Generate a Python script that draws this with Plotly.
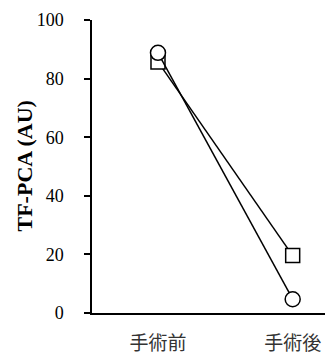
import plotly.graph_objects as go

categories = ["手術前", "手術後"]
series_square = [85.7, 19.6]
series_circle = [88.8, 4.7]
y_ticks = [0, 20, 40, 60, 80, 100]

fig = go.Figure()
fig.add_trace(go.Scatter(
    x=categories, y=series_square, mode="lines+markers",
    line=dict(color="black", width=1.5),
    marker=dict(symbol="square", size=14, color="white", line=dict(color="black", width=1.5)),
    showlegend=False, cliponaxis=False))
fig.add_trace(go.Scatter(
    x=categories, y=series_circle, mode="lines+markers",
    line=dict(color="black", width=1.5),
    marker=dict(symbol="circle", size=15, color="white", line=dict(color="black", width=1.5)),
    showlegend=False, cliponaxis=False))

fig.update_layout(
    width=325, height=354,
    margin=dict(l=92, r=0, t=20, b=41, autoexpand=False),
    plot_bgcolor="white", paper_bgcolor="white",
    font=dict(family="Liberation Serif", size=18, color="black"),
    xaxis=dict(type="category", range=[-0.49, 1.24], showline=True, linecolor="black", linewidth=1.5,
               ticks="", showgrid=False, zeroline=False, ticklabelstandoff=12, automargin=False,
               tickfont=dict(family="Noto Sans CJK JP", size=19, color="#333")),
    yaxis=dict(range=[0, 100], tickvals=y_ticks, showline=True, linecolor="black", linewidth=1.5,
               ticks="outside", ticklen=6, tickcolor="black", tickwidth=1.5, automargin=False,
               showgrid=False, zeroline=False, ticklabelstandoff=17,
               tickfont=dict(family="Liberation Serif", size=18, color="black")),
    annotations=[dict(text="<b>TF-PCA (AU)</b>", textangle=-90, xref="paper", yref="paper",
                      x=(24 - 92) / 233, y=0.5, showarrow=False, xanchor="center", yanchor="middle",
                      font=dict(family="Liberation Serif", size=22, color="black"))],
)
fig.write_html("out.html")
